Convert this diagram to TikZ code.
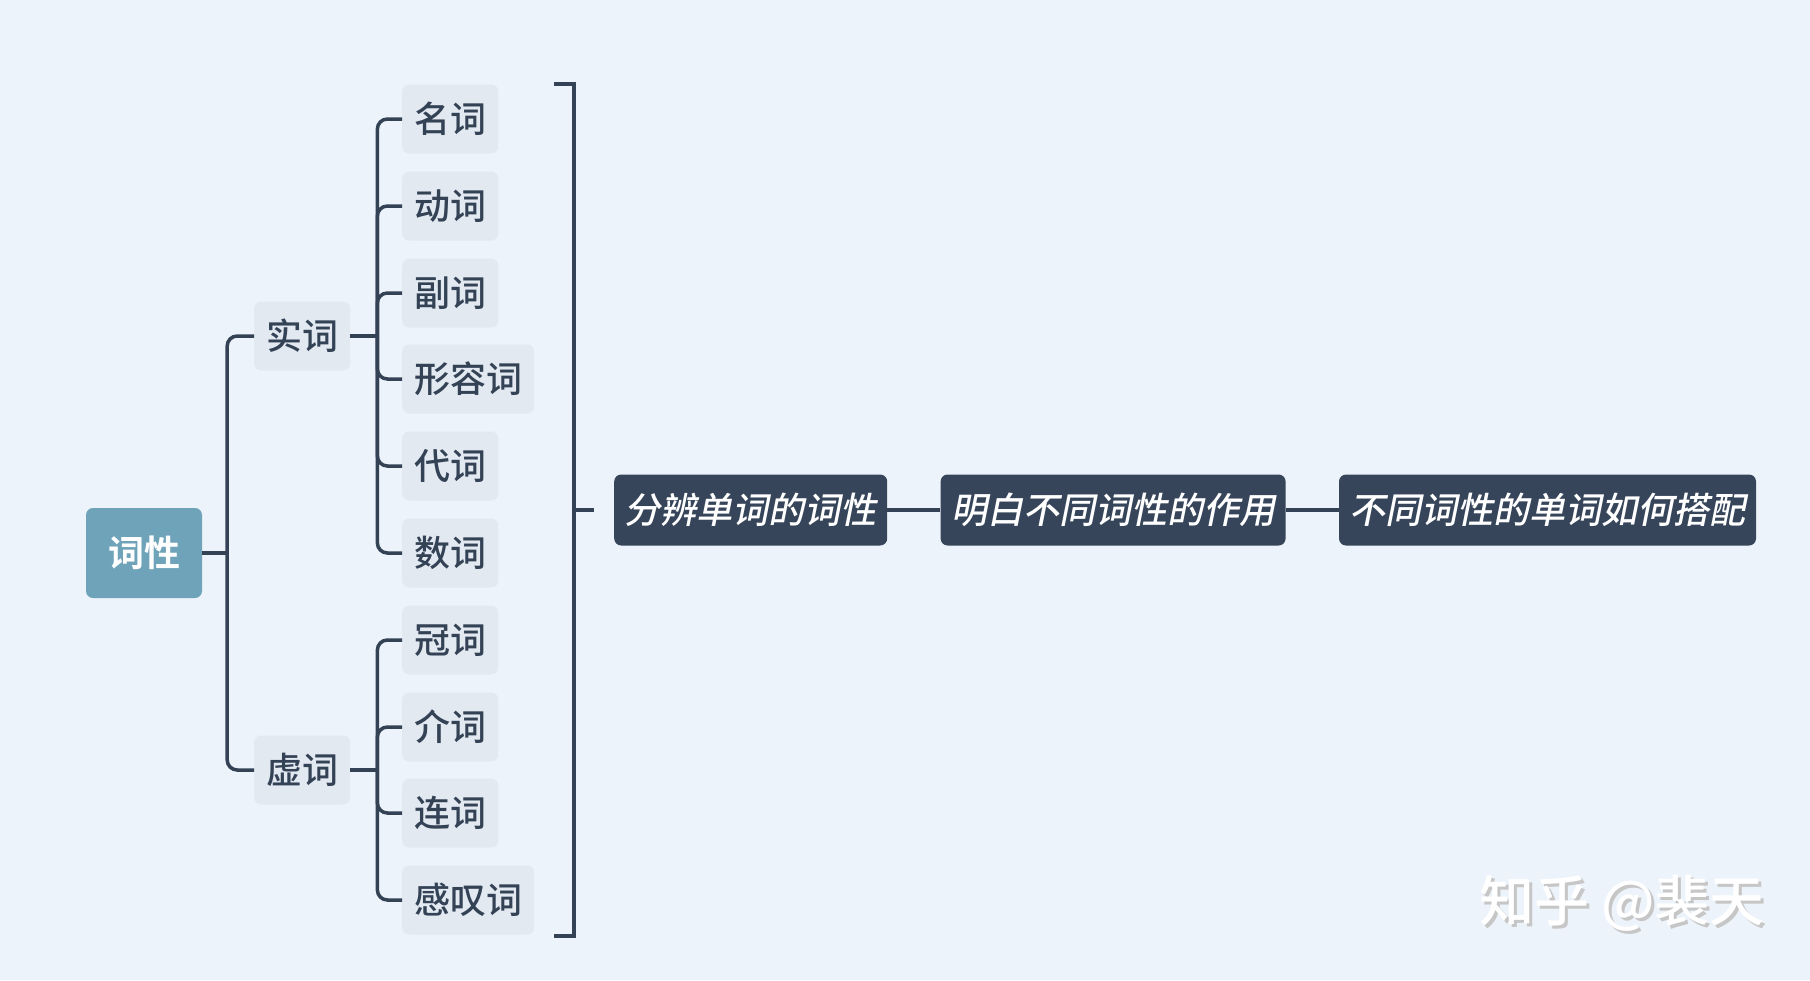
\documentclass[tikz,border=0pt]{standalone}
\usepackage{fontspec}
\newfontfamily\cjk{Noto Sans CJK SC Medium}
\newfontfamily\cjkbold{Noto Sans CJK SC Bold}
\newfontfamily\cjkslant[FakeSlant=0.2]{Noto Sans CJK SC Medium}
\usetikzlibrary{positioning,calc}
\definecolor{bgcol}{HTML}{EDF3FA}
\definecolor{rootcol}{HTML}{6FA3BA}
\definecolor{leafcol}{HTML}{E2E9F1}
\definecolor{inkcol}{HTML}{344256}
\definecolor{darkcol}{HTML}{36455A}

\begin{document}
\begin{tikzpicture}[x=1pt, y=-1pt,
    root/.style={rectangle, fill=rootcol, text=white, font=\cjkbold\fontsize{36}{40}\selectfont, minimum width=116pt, minimum height=90pt, rounded corners=7pt, text height=31.5pt, text depth=4.5pt},
    leaf/.style={rectangle, fill=leafcol, text=inkcol, font=\cjk\fontsize{36}{40}\selectfont, inner xsep=12pt, inner ysep=0pt, minimum height=69pt, rounded corners=7pt, text height=31.5pt, text depth=4.5pt},
    stage/.style={rectangle, fill=darkcol, text=white, font=\cjkslant\fontsize{36}{40}\selectfont, inner xsep=10.5pt, inner ysep=0pt, minimum height=71pt, rounded corners=7pt, text height=31.5pt, text depth=4.5pt},
    conn/.style={draw=inkcol, line width=3.5pt, rounded corners=10pt},
    wmark/.style={font=\cjk\fontsize{55}{60}\selectfont}
]
% --- Background ---
\fill[bgcol] (0,0) rectangle (1810,980);

% --- Root and first level ---
\node[root] (root) at (144,553) {词性};
\node[leaf, anchor=west] (shi) at (254,336) {实词};
\node[leaf, anchor=west] (xu) at (254,770) {虚词};
\coordinate (rootbus) at ($(root.east)+(25,0)$);
\draw[conn] (root.east) -- (rootbus);
\draw[conn] (rootbus) |- (shi.west);
\draw[conn] (rootbus) |- (xu.west);

% --- Content words ---
\node[leaf, anchor=west] (ming) at (402,119) {名词};
\node[leaf, anchor=west] (dong) at (402,206) {动词};
\node[leaf, anchor=west] (fu) at (402,293) {副词};
\node[leaf, anchor=west] (xing) at (402,379) {形容词};
\node[leaf, anchor=west] (dai) at (402,466) {代词};
\node[leaf, anchor=west] (shu) at (402,553) {数词};
\coordinate (shibus) at ($(shi.east)+(27,0)$);
\draw[conn] (shi.east) -- (shibus);
\draw[conn] (shibus) |- (ming.west);
\draw[conn] (shibus) |- (dong.west);
\draw[conn] (shibus) |- (fu.west);
\draw[conn] (shibus) |- (xing.west);
\draw[conn] (shibus) |- (dai.west);
\draw[conn] (shibus) |- (shu.west);

% --- Function words ---
\node[leaf, anchor=west] (guan) at (402,640) {冠词};
\node[leaf, anchor=west] (jie) at (402,727) {介词};
\node[leaf, anchor=west] (lian) at (402,813) {连词};
\node[leaf, anchor=west] (gantan) at (402,900) {感叹词};
\coordinate (xubus) at ($(xu.east)+(27,0)$);
\draw[conn] (xu.east) -- (xubus);
\draw[conn] (xubus) |- (guan.west);
\draw[conn] (xubus) |- (jie.west);
\draw[conn] (xubus) |- (lian.west);
\draw[conn] (xubus) |- (gantan.west);

% --- Bracket ---
\coordinate (brtop) at (554,84);
\coordinate (brbot) at (554,936);
\coordinate (brmid) at (574,510);
\draw[conn, rounded corners=0pt] (brtop) -- ++(20,0) |- (brbot);
\draw[conn] (brmid) -- ++(20,0);

% --- Steps ---
\node[stage, anchor=west] (fenbian) at (614,510) {分辨单词的词性};
\node[stage, right=53pt of fenbian] (mingbai) {明白不同词性的作用};
\node[stage, right=53pt of mingbai] (dapei) {不同词性的单词如何搭配};
\draw[conn] (fenbian) -- (mingbai);
\draw[conn] (mingbai) -- (dapei);

% --- Watermark ---
\node[wmark, text=gray!45] (wmshadow) at (1625,906) {知乎 @裴天};
\node[wmark, text=white] (wm) at (1622,903) {知乎 @裴天};
\end{tikzpicture}
\end{document}
